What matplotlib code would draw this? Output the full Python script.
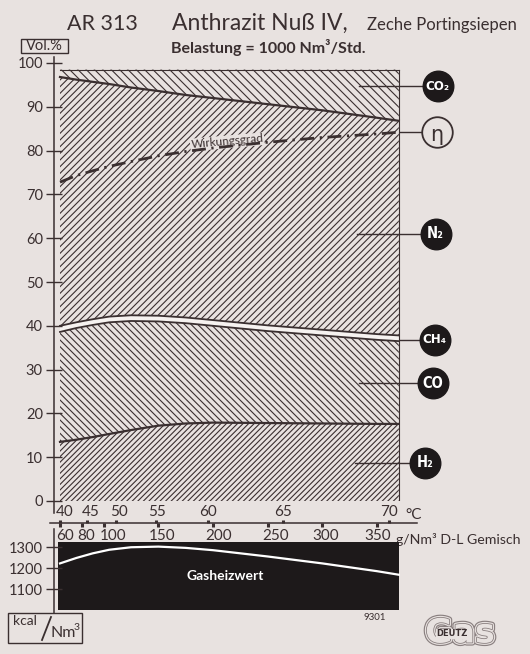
import matplotlib
matplotlib.use('Agg')
import matplotlib.pyplot as plt
import matplotlib.patheffects as pe
from matplotlib.patches import Rectangle
import numpy as np

plt.rcParams['font.family'] = ['Lato', 'DejaVu Sans']
plt.rcParams['hatch.linewidth'] = 0.8

BG = '#e8e2e0'
INK = '#3a2f30'
BLK = '#1d191a'

# ---------------- data ----------------
# D-L mixture load (g/Nm3) along the bottom scale
g_mix = [60, 75, 90, 105, 125, 150, 175, 200, 250, 300, 350, 370]
# gas composition, Vol.%
h2 = [13.5, 14.0, 14.6, 15.3, 16.2, 17.2, 17.7, 17.9, 17.8, 17.7, 17.6, 17.6]
co = [25.1, 25.5, 25.6, 25.5, 24.9, 23.8, 22.9, 22.1, 21.0, 20.1, 19.2, 18.9]
ch4 = [1.4, 1.3, 1.3, 1.3, 1.3, 1.3, 1.3, 1.3, 1.3, 1.3, 1.3, 1.3]
n2 = [56.8, 55.4, 54.2, 53.1, 52.0, 51.3, 50.8, 50.7, 50.5, 50.1, 49.4, 49.0]
co2 = [1.7, 2.3, 2.8, 3.3, 4.1, 4.9, 5.8, 6.5, 7.9, 9.3, 11.0, 11.7]
# efficiency (Wirkungsgrad), %
eff = [72.8, 74.3, 75.4, 76.4, 77.5, 78.8, 79.8, 80.6, 81.9, 83.0, 83.8, 84.2]
# gas heating value, kcal/Nm3
heiz = [1222, 1248, 1270, 1287, 1299, 1302, 1296, 1285, 1255, 1222, 1185, 1168]

vol_ticks = [0, 10, 20, 30, 40, 50, 60, 70, 80, 90, 100]
kcal_ticks = [1100, 1200, 1300]
g_ticks = [60, 80, 100, 150, 200, 250, 300, 350]
temp_labels = [40, 45, 50, 55, 60, 65, 70]
temp_at_g = [60, 84.7, 111.5, 148, 195.6, 264, 361]

comp_names = ['CO\u2082', '\u03b7', 'N\u2082', 'CH\u2084', 'CO', 'H\u2082']
label_y = [94.7, 84.2, 61.0, 36.8, 26.9, 8.7]

# ---------------- layout helpers ----------------
W, H = 530, 654
PXG = 1.093           # pixels per g/Nm3
XLIM = (60 - 6 / PXG, 60 + 342 / PXG)


def fbox(x0, y0, x1, y1):
    return [x0 / W, 1 - y1 / H, (x1 - x0) / W, (y1 - y0) / H]


fig = plt.figure(figsize=(W / 100, H / 100), dpi=100)
fig.patch.set_facecolor(BG)

# overlay for decorative text (pixel coordinates)
ov = fig.add_axes([0, 0, 1, 1])
ov.set_xlim(0, W)
ov.set_ylim(H, 0)
ov.axis('off')
ov.set_zorder(0)

# ---------------- main composition chart ----------------
ax = fig.add_axes(fbox(54, 63, 402, 501))
ax.set_zorder(2)
ax.set_facecolor('none')
for s in ax.spines.values():
    s.set_visible(False)
ax.set_xlim(*XLIM)
ax.set_ylim(0, 100)

g = np.array(g_mix, dtype=float)
y1 = np.array(h2)
y2 = y1 + np.array(co)
y3 = y2 + np.array(ch4)
y4 = y3 + np.array(n2)
y5 = y4 + np.array(co2)

ax.fill_between(g, 0, y1, facecolor=BG, edgecolor=INK, hatch='//////', lw=0, zorder=1)
ax.fill_between(g, y1, y2, facecolor=BG, edgecolor=INK, hatch='\\\\\\\\\\', lw=0, zorder=1)
ax.fill_between(g, y2, y3, facecolor='#f6f2f0', lw=0, zorder=1)
ax.fill_between(g, y3, y4, facecolor=BG, edgecolor=INK, hatch='/////', lw=0, zorder=1)
ax.fill_between(g, y4, y5, facecolor=BG, edgecolor=INK, hatch='\\\\\\\\', lw=0, zorder=1)

ax.plot(g, y1, color=INK, lw=1.6, zorder=3)
ax.plot(g, y2, color=INK, lw=1.3, zorder=3)
ax.plot(g, y3, color=INK, lw=1.3, zorder=3)
ax.plot(g, y4, color=INK, lw=1.6, zorder=3)
ax.plot(g, y5, color=INK, lw=0.8, zorder=3)
ax.plot([g[-1], g[-1]], [0, y5[-1]], color=INK, lw=0.8, zorder=3)

ax.plot(g, eff, color=INK, lw=2.0, linestyle=(0, (5, 2, 0.8, 2)), zorder=5)
ax.text(213, 82.0, 'Wirkungsgrad', fontsize=8.5, color=INK, rotation=5,
        ha='center', va='center', zorder=4,
        bbox=dict(facecolor=BG, edgecolor='none', pad=0.6))

# y axis
ax.plot([XLIM[0], XLIM[0]], [-2.7, 101.4], color=INK, lw=1.1, clip_on=False)
ax.set_xticks([])
ax.set_yticks(vol_ticks)
ax.tick_params(axis='y', direction='inout', length=12, width=1.0, color=INK,
               labelsize=10.5, labelcolor=INK, pad=2)

# component labels with leader lines
circ_x = [405.5, 404.6, 403.7, 402.8, 401.0, 394.0]
lead_x0 = [334, 371, 332, 371, 334, 330]
for name, yy, cx, x0 in zip(comp_names, label_y, circ_x, lead_x0):
    ax.plot([x0, cx], [yy, yy], color=INK, lw=1.0, clip_on=False, zorder=6)
    if name == '\u03b7':
        ax.plot([cx], [yy], marker='o', markersize=22, markerfacecolor=BG,
                markeredgecolor=INK, markeredgewidth=1.3, clip_on=False, zorder=7)
        ax.text(cx, yy - 0.6, name, fontsize=15, color=INK, ha='center', va='center',
                family='DejaVu Sans', zorder=8, clip_on=False)
    else:
        ax.plot([cx], [yy], marker='o', markersize=22, markerfacecolor=BLK,
                markeredgecolor=BLK, clip_on=False, zorder=7)
        ax.text(cx, yy, name, fontsize=9.5 if len(name) > 2 else 10.5, color='white',
                fontweight='bold', fontstretch='condensed', ha='center', va='center',
                family='DejaVu Sans', zorder=8, clip_on=False)

# ---------------- temperature / load scale ----------------
sc = fig.add_axes(fbox(54, 503, 402, 548))
sc.set_zorder(2)
sc.set_xlim(*XLIM)
sc.set_ylim(548, 503)
sc.axis('off')
sc.plot([50.9, 386.6], [523, 523], color=INK, lw=1.1, clip_on=False)
temp_dx = [5, 4, 3, 1, 0, 0, 0]
for t, gp, dx in zip(temp_labels, temp_at_g, temp_dx):
    sc.plot([gp, gp], [519.5, 523], color=INK, lw=2.2, solid_capstyle='butt')
    sc.text(gp + dx / PXG, 512, str(t), fontsize=11, color=INK, ha='center', va='center')
g_dx = [5, 4, 9, 4, 6, 8, 3, 1]
for gv, dx in zip(g_ticks, g_dx):
    sc.plot([gv, gv], [523, 526.5], color=INK, lw=2.2, solid_capstyle='butt')
    sc.text(gv + dx / PXG, 536, str(gv), fontsize=11, color=INK, ha='center', va='center')
ov.plot([54, 54], [529, 613], color=INK, lw=1.1)

ov.text(405, 515, '\u00b0C', fontsize=11, color=INK, ha='left', va='center')
ov.text(396, 539, 'g/Nm\u00b3 D-L Gemisch', fontsize=10.2, color=INK, ha='left', va='center')

# ---------------- heating value panel ----------------
ax2 = fig.add_axes(fbox(54, 542, 402, 610))
ax2.set_zorder(2)
ax2.set_facecolor('none')
for s in ax2.spines.values():
    s.set_visible(False)
ax2.set_xlim(*XLIM)
ax2.set_ylim(1000, 1324)
ax2.axvspan(58.5, 370, color=BLK, lw=0)
ax2.plot(g, heiz, color='white', lw=1.6)
ax2.text(211, 1160, 'Gasheizwert', color='white', fontsize=10, fontweight='bold',
         ha='center', va='center')
ax2.set_xticks([])
ax2.set_yticks(kcal_ticks)
ax2.tick_params(axis='y', direction='inout', length=12, width=1.0, color=INK,
                labelsize=10.5, labelcolor=INK, pad=2)

# ---------------- titles and decorations ----------------
ov.text(67, 30, 'AR 313', fontsize=15.5, color=INK, ha='left', va='baseline')
ov.text(172, 30, 'Anthrazit Nu\u00df IV,', fontsize=16.5, color=INK, ha='left',
        va='baseline')
ov.text(367, 30, 'Zeche Portingsiepen', fontsize=12, color=INK, ha='left', va='baseline')
ov.text(171, 47, 'Belastung = 1000 Nm\u00b3/Std.', fontsize=11.5, color=INK, ha='left',
        va='center', fontweight='bold')

ov.add_patch(Rectangle((21, 39), 47, 14, fill=False, edgecolor=INK, lw=1.0))
ov.text(44.5, 46.5, 'Vol.%', fontsize=10.5, color=INK, ha='center', va='center')

ov.add_patch(Rectangle((8, 613), 74, 30, fill=False, edgecolor=INK, lw=1.0))
ov.text(13, 621, 'kcal', fontsize=10, color=INK, ha='left', va='center')
ov.plot([42, 51], [640, 617], color=INK, lw=1.3)
ov.text(50, 633, 'Nm', fontsize=11.5, color=INK, ha='left', va='center')
ov.text(74, 627, '3', fontsize=7.5, color=INK, ha='left', va='center')

ov.text(375, 617, '9301', fontsize=7, color=INK, ha='center', va='center')

logo = ov.text(460, 633, 'Gas', fontsize=24, color=BG, ha='center', va='center',
               fontweight='bold', family='DejaVu Sans')
logo.set_path_effects([pe.Stroke(linewidth=4.5, foreground='#8a8080'),
                       pe.Stroke(linewidth=2.8, foreground=BG),
                       pe.Stroke(linewidth=1.2, foreground='#8a8080'),
                       pe.Normal()])
ov.text(452, 634, 'DEUTZ', fontsize=6, color=INK, ha='center', va='center',
        fontweight='bold', family='DejaVu Sans',
        bbox=dict(facecolor=BG, edgecolor='none', pad=0.3))

fig.savefig('out.png', dpi=100, facecolor=BG)
